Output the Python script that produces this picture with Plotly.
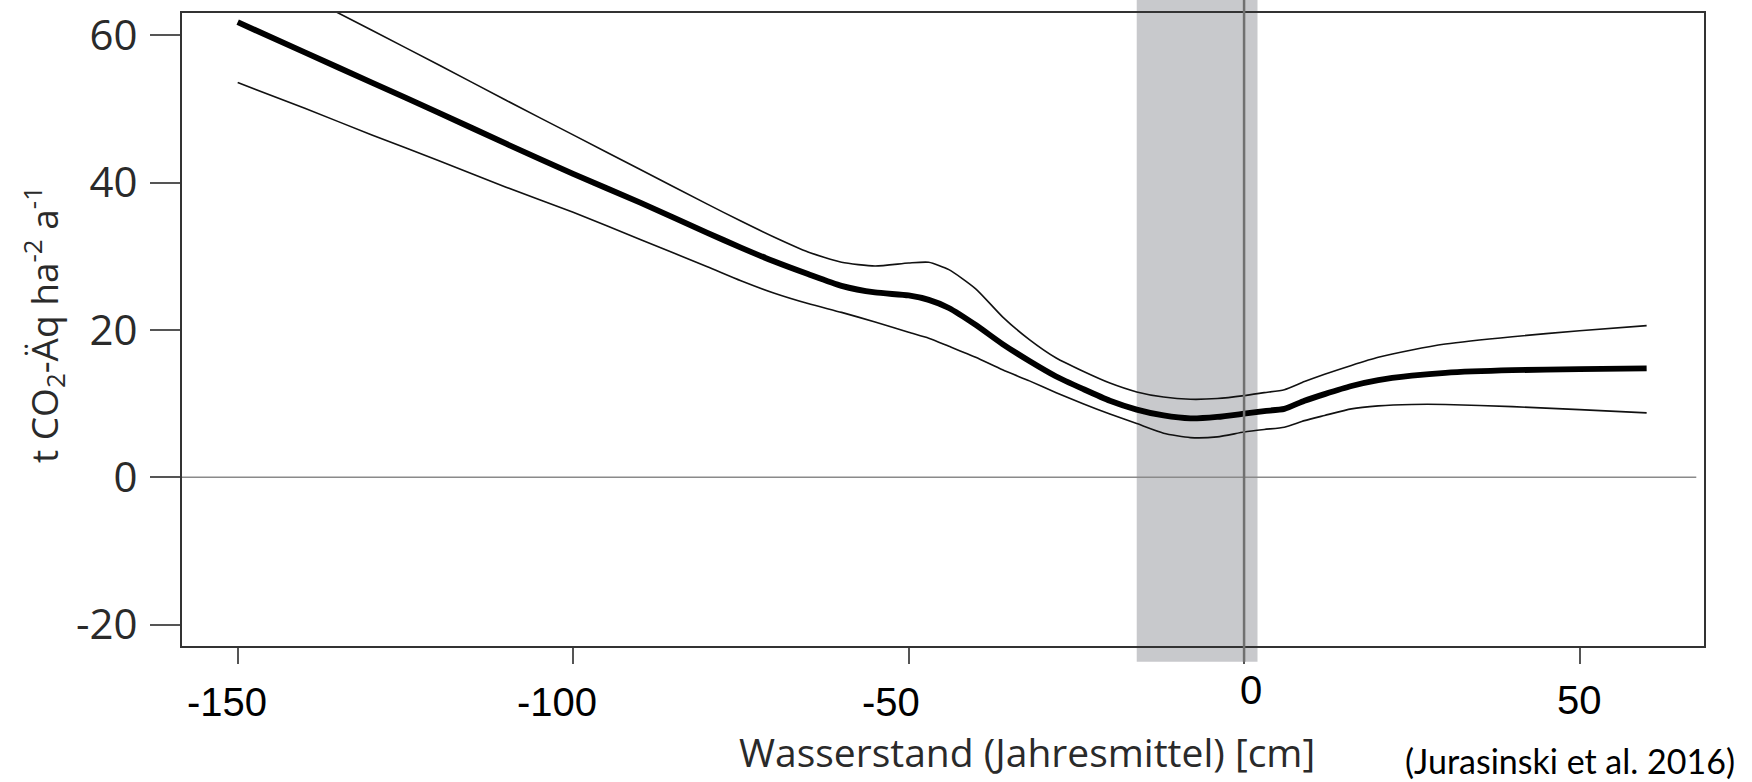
import plotly.graph_objects as go

# ---- data ----
water_level = [-150, -140, -130, -120, -110, -100, -90, -80, -75, -70, -65, -60, -55, -50, -47,
               -44, -40, -36, -32, -28, -24, -20, -16, -12, -8, -4, 0, 3, 6, 9, 12, 16, 20, 25,
               30, 40, 50, 60]
emission_mean = [61.8, 57.7, 53.6, 49.5, 45.3, 41.2, 37.3, 33.2, 31.2, 29.3, 27.6, 26.0, 25.1,
                 24.7, 24.1, 23.0, 20.7, 18.1, 15.8, 13.7, 12.0, 10.4, 9.2, 8.4, 8.0, 8.2, 8.65,
                 9.0, 9.3, 10.4, 11.3, 12.4, 13.2, 13.8, 14.2, 14.55, 14.7, 14.8]
emission_upper = [70.1, 65.4, 60.7, 56.0, 51.2, 46.5, 41.8, 37.1, 34.8, 32.6, 30.6, 29.2, 28.7,
                  29.1, 29.2, 28.2, 25.6, 21.8, 18.7, 16.2, 14.4, 12.8, 11.6, 10.9, 10.6, 10.7,
                  11.1, 11.5, 11.9, 13.0, 14.0, 15.2, 16.3, 17.3, 18.1, 19.1, 19.9, 20.6]
emission_lower = [53.6, 50.1, 46.5, 43.0, 39.4, 36.0, 32.3, 28.6, 26.7, 25.0, 23.6, 22.4, 21.1,
                  19.7, 18.9, 17.8, 16.3, 14.6, 13.1, 11.5, 10.0, 8.6, 7.3, 6.0, 5.4, 5.5, 6.15,
                  6.5, 6.8, 7.7, 8.4, 9.3, 9.7, 9.9, 9.9, 9.6, 9.2, 8.75]

optimum_band = [-16, 2]          # shaded water-level range
x_tick_values = [-150, -100, -50, 0, 50]
x_tick_labels = ["-150", "-100", "-50", "0", "50"]
y_tick_values = [-20, 0, 20, 40, 60]
y_tick_labels = ["-20", "0", "20", "40", "60"]
x_range = [-158.3, 68.55]
y_range = [-22.9, 63.05]
zero_line_end = 67.4

x_title = "Wasserstand (Jahresmittel) [cm]"
y_title = "t CO<sub>2</sub>-Äq ha<sup>-2</sup> a<sup>-1</sup>"
citation = "(Jurasinski et al. 2016)"

# label placement tweaks (pixels)
x_label_xshift = [-11, -16, -18, 7, 0]
x_label_yshift = [-56, -56, -56, -44, -54]

fig = go.Figure()

fig.add_trace(go.Scatter(x=water_level, y=emission_upper, mode="lines",
                         line=dict(color="#111111", width=1.6, shape="spline", smoothing=0.6),
                         showlegend=False, hoverinfo="skip"))
fig.add_trace(go.Scatter(x=water_level, y=emission_lower, mode="lines",
                         line=dict(color="#111111", width=1.6, shape="spline", smoothing=0.6),
                         showlegend=False, hoverinfo="skip"))
fig.add_trace(go.Scatter(x=water_level, y=emission_mean, mode="lines",
                         line=dict(color="#000000", width=5.8, shape="spline", smoothing=0.6),
                         showlegend=False, hoverinfo="skip"))

shapes = [
    dict(type="rect", xref="x", yref="paper", x0=optimum_band[0], x1=optimum_band[1],
         y0=-0.025, y1=1.04, fillcolor="rgb(200,201,204)", line=dict(width=0), layer="below"),
    dict(type="line", xref="x", yref="y", x0=x_range[0], x1=zero_line_end, y0=0, y1=0,
         line=dict(color="#8a8a8a", width=1.5), layer="above"),
    dict(type="line", xref="x", yref="paper", x0=0, x1=0, y0=-0.025, y1=1.04,
         line=dict(color="#707070", width=2.5), layer="above"),
]

annotations = []
for v, t, dx, dy in zip(x_tick_values, x_tick_labels, x_label_xshift, x_label_yshift):
    annotations.append(dict(x=v, xref="x", y=0, yref="paper", text=t, showarrow=False,
                            xanchor="center", yanchor="middle", xshift=dx, yshift=dy,
                            font=dict(family="Liberation Sans, Arial",
                                      size=40, color="#000000")))
annotations.append(dict(x=(1027 - 182) / 1522, xref="paper", y=-(751 - 646) / 633, yref="paper",
                        text=x_title, showarrow=False, xanchor="center", yanchor="middle",
                        font=dict(family="Open Sans", size=39, color="#2a2a2a")))
annotations.append(dict(x=(43 - 182) / 1522, xref="paper", y=(646 - 325) / 633, yref="paper",
                        text=y_title, showarrow=False, textangle=-90, xanchor="center",
                        yanchor="middle",
                        font=dict(family="Open Sans", size=37, color="#2a2a2a")))
annotations.append(dict(x=(1570 - 182) / 1522, xref="paper", y=-(760 - 646) / 633, yref="paper",
                        text=citation, showarrow=False, xanchor="center", yanchor="middle",
                        font=dict(family="Lato", size=34, color="#000000")))

fig.update_layout(
    width=1752, height=782,
    margin=dict(l=182, r=48, t=13, b=136, autoexpand=False),
    paper_bgcolor="white", plot_bgcolor="rgba(0,0,0,0)",
    shapes=shapes, annotations=annotations, showlegend=False,
    xaxis=dict(range=x_range, tickvals=x_tick_values, showticklabels=False,
               ticks="outside", ticklen=16, tickwidth=2, tickcolor="#555555",
               showline=True, linecolor="#333333", linewidth=2, mirror=True,
               showgrid=False, zeroline=False, automargin=False),
    yaxis=dict(range=y_range, tickvals=y_tick_values, ticktext=y_tick_labels,
               ticks="outside", ticklen=30, tickwidth=1.5, tickcolor="#555555",
               ticklabelstandoff=4,
               tickfont=dict(family="Open Sans", size=42, color="#2a2a2a"),
               showline=True, linecolor="#333333", linewidth=2, mirror=True,
               showgrid=False, zeroline=False, automargin=False),
)

fig.write_html("out.html", config={"displayModeBar": False},
               post_script="document.body.style.margin='0px';document.body.style.overflow='hidden';")
